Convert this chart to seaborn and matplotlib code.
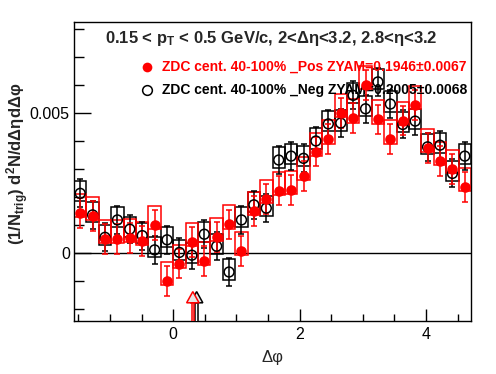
import numpy as np
import pandas as pd
import matplotlib
matplotlib.use('Agg')
import matplotlib.pyplot as plt
from matplotlib.patches import Polygon, Rectangle
from matplotlib.ticker import MultipleLocator, FuncFormatter
import seaborn as sns

# 32 delta-phi bins from -pi/2 to 3pi/2
n_bins = 32
phi_lo, phi_hi = -np.pi / 2, 3 * np.pi / 2
bin_w = (phi_hi - phi_lo) / n_bins
dphi = phi_lo + bin_w * (np.arange(n_bins) + 0.5)

# values (units of 1e-3)
pos_vals = [1.43, 1.33, 0.50, 0.50, 0.54, 0.44, 1.01, -1.00, -0.37, 0.40, -0.27, 0.58,
            1.03, 0.08, 1.51, 1.93, 2.24, 2.26, 2.76, 3.63, 4.07, 5.01, 4.82, 6.00,
            4.78, 4.07, 4.74, 5.30, 3.75, 3.29, 3.00, 2.36]
neg_vals = [2.14, 1.37, 0.57, 1.19, 0.86, 0.63, 0.12, 0.48, 0.03, -0.07, 0.68, 0.25,
            -0.67, 1.19, 1.73, 1.61, 3.33, 3.47, 3.39, 4.01, 4.62, 4.65, 5.64, 5.16,
            6.12, 5.33, 4.60, 4.72, 3.80, 3.86, 2.85, 3.47]
pos_stat = 0.53
neg_stat = 0.50
# systematic boxes (asymmetric, up / down)
pos_sys = (0.68, 0.15)
neg_sys = (0.45, 0.27)
# ZYAM arrows: position, tip, base of head
zyam_phi = [0.37, 0.31]
zyam_tip = -1.37
zyam_base = -1.77

pos_label = "ZDC cent. 40-100% _Pos ZYAM=0.1946\u00b10.0067"
neg_label = "ZDC cent. 40-100% _Neg ZYAM=0.2005\u00b10.0068"

df = pd.DataFrame({
    'dphi': np.concatenate([dphi, dphi]),
    'val': np.concatenate([pos_vals, neg_vals]) * 1e-3,
    'series': ['pos'] * n_bins + ['neg'] * n_bins,
})

sns.set_theme(style='ticks')
plt.rcParams['font.family'] = ['Liberation Sans', 'DejaVu Sans']
plt.rcParams['mathtext.fontset'] = 'custom'
plt.rcParams['mathtext.rm'] = 'Liberation Sans'
plt.rcParams['mathtext.bf'] = 'Liberation Sans:bold'
plt.rcParams['mathtext.it'] = 'Liberation Sans:italic'

fig = plt.figure(figsize=(4.96, 3.74), dpi=100)
ax = fig.add_axes([74 / 496, 53 / 374, 397 / 496, 299 / 374])

ax.axhline(0, color='black', lw=1.0, zorder=1)

# black (Neg) first, red (Pos) on top
for name, color, sys_ud, stat in [('neg', 'black', neg_sys, neg_stat),
                                  ('pos', 'red', pos_sys, pos_stat)]:
    d = df[df['series'] == name]
    up, down = sys_ud[0] * 1e-3, sys_ud[1] * 1e-3
    ax.bar(d['dphi'], up + down, bottom=d['val'] - down, width=bin_w,
           fill=False, edgecolor=color, linewidth=1.1, zorder=2)
    ax.errorbar(d['dphi'], d['val'], yerr=stat * 1e-3, fmt='none', ecolor=color,
                elinewidth=1.1, capsize=2.2, capthick=1.1, zorder=3)

d = df[df['series'] == 'neg']
sns.scatterplot(x=d['dphi'], y=d['val'], ax=ax, marker='o', s=50,
                facecolor='none', edgecolor='black', linewidth=1.1, zorder=4)
d = df[df['series'] == 'pos']
sns.scatterplot(x=d['dphi'], y=d['val'], ax=ax, marker='o', s=58,
                color='red', linewidth=0, zorder=5)

# ZYAM arrows
for xp, col in zip(zyam_phi, ['black', 'red']):
    hw = bin_w / 2
    head = Polygon([[xp - hw, zyam_base * 1e-3], [xp + hw, zyam_base * 1e-3],
                    [xp, zyam_tip * 1e-3]], closed=True, facecolor='#e6e6e6',
                   edgecolor=col, lw=1.1, zorder=6)
    ax.add_patch(head)
    shaft = Rectangle((xp - 0.018, -0.003), 0.036, zyam_base * 1e-3 + 0.003,
                      facecolor='white', edgecolor=col, lw=1.1, zorder=6)
    ax.add_patch(shaft)

ax.set_xlim(phi_lo, phi_hi)
ax.set_ylim(-0.00242, 0.00826)

ax.xaxis.set_major_locator(MultipleLocator(2))
ax.xaxis.set_minor_locator(MultipleLocator(0.5))
ax.yaxis.set_major_locator(MultipleLocator(0.005))
ax.yaxis.set_minor_locator(MultipleLocator(0.001))
ax.xaxis.set_major_formatter(FuncFormatter(lambda v, p: f'{v:g}'))
ax.yaxis.set_major_formatter(FuncFormatter(lambda v, p: '0' if abs(v) < 1e-9 else f'{v:g}'))

ax.tick_params(axis='both', which='both', direction='in', top=False, right=False,
               width=1.0, colors='black', labelsize=11.5)
ax.tick_params(axis='y', which='major', length=12, pad=3)
ax.tick_params(axis='y', which='minor', length=7)
ax.tick_params(axis='x', which='major', length=9, pad=4)
ax.tick_params(axis='x', which='minor', length=5)
for sp in ax.spines.values():
    sp.set_linewidth(1.0)
    sp.set_color('black')
    sp.set_visible(True)

ax.set_xlabel('\u0394\u03c6', fontsize=12)
ax.xaxis.set_label_coords(0.499, -0.097)
ax.set_ylabel('(1/N$_{\\mathbf{trig}}$) d$^{\\mathbf{2}}$N/d\u0394\u03b7d\u0394\u03c6',
              fontsize=12, fontweight='bold', va='center')
ax.yaxis.set_label_coords(-0.142, 0.525)

ax.text(0.078, 0.946, '0.15 < p$_{\\mathbf{T}}$ < 0.5 GeV/c, 2<\u0394\u03b7<3.2, 2.8<\u03b7<3.2',
        transform=ax.transAxes, fontsize=12, fontweight='bold', ha='left', va='center')

# legend rows
ax.plot([0.184], [0.849], marker='o', color='red', ms=7, mew=0, ls='none',
        transform=ax.transAxes, clip_on=False)
ax.plot([0.184], [0.773], marker='o', mfc='none', mec='black', ms=7, mew=1.1, ls='none',
        transform=ax.transAxes, clip_on=False)
ax.text(0.222, 0.849, pos_label, transform=ax.transAxes, fontsize=10, fontweight='bold',
        color='red', ha='left', va='center')
ax.text(0.222, 0.773, neg_label, transform=ax.transAxes, fontsize=10, fontweight='bold',
        color='black', ha='left', va='center')

fig.savefig('out.png', dpi=100)
